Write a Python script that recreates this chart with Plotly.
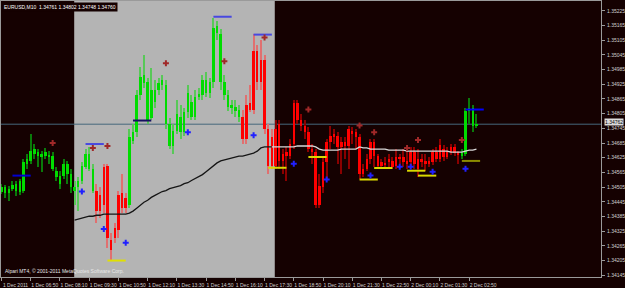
import numpy as np
import plotly.graph_objects as go

# ---------------- data (EURUSD, M10, 1 Dec 2011 05:30 -> 2 Dec 03:00) ----------------
opens = [1.34487, 1.34479, 1.34479, 1.34499, 1.34491, 1.34487, 1.34491, 1.34600, 1.34612, 1.34640,
         1.34632, 1.34628, 1.34632, 1.34628, 1.34580, 1.34548, 1.34519, 1.34552, 1.34560, 1.34507,
         1.34491, 1.34507, 1.34532, 1.34588, 1.34580, 1.34491, 1.34491, 1.34471, 1.34588, 1.34592,
         1.34290, 1.34338, 1.34471, 1.34479, 1.34459, 1.34431, 1.34693, 1.34729, 1.34882, 1.34930,
         1.34781, 1.34789, 1.34854, 1.34902, 1.34922, 1.34761, 1.34673, 1.34673, 1.34733, 1.34729,
         1.34729, 1.34810, 1.34793, 1.34793, 1.34874, 1.34882, 1.34890, 1.34890, 1.34935, 1.35136,
         1.34935, 1.34882, 1.34834, 1.34830, 1.34814, 1.34793, 1.34793, 1.34842, 1.34850, 1.35063,
         1.35063, 1.35023, 1.35023, 1.34741, 1.34709, 1.34741, 1.34761, 1.34640, 1.34648, 1.34681,
         1.34850, 1.34850, 1.34781, 1.34753, 1.34729, 1.34660, 1.34648, 1.34511, 1.34608, 1.34689,
         1.34713, 1.34721, 1.34713, 1.34689, 1.34689, 1.34741, 1.34733, 1.34729, 1.34709, 1.34580,
         1.34620, 1.34689, 1.34689, 1.34632, 1.34608, 1.34604, 1.34620, 1.34612, 1.34628, 1.34628,
         1.34628, 1.34612, 1.34648, 1.34648, 1.34620, 1.34620, 1.34612, 1.34612, 1.34648, 1.34648,
         1.34677, 1.34660, 1.34652, 1.34669, 1.34669, 1.34648, 1.34636, 1.34640, 1.34814, 1.34753,
         1.34757]
highs = [1.34519, 1.34515, 1.34511, 1.34528, 1.34532, 1.34540, 1.34620, 1.34640, 1.34721, 1.34681,
         1.34660, 1.34652, 1.34665, 1.34652, 1.34648, 1.34588, 1.34572, 1.34620, 1.34612, 1.34580,
         1.34532, 1.34548, 1.34608, 1.34660, 1.34669, 1.34600, 1.34519, 1.34507, 1.34600, 1.34600,
         1.34318, 1.34358, 1.34491, 1.34560, 1.34479, 1.34741, 1.34761, 1.34902, 1.34995, 1.35043,
         1.34951, 1.34991, 1.34943, 1.34951, 1.34963, 1.34943, 1.34789, 1.34761, 1.34862, 1.34842,
         1.34830, 1.34922, 1.34882, 1.34902, 1.34910, 1.34963, 1.34975, 1.34951, 1.35196, 1.35184,
         1.35152, 1.34963, 1.34902, 1.34862, 1.34862, 1.34842, 1.34822, 1.34882, 1.34922, 1.35132,
         1.35084, 1.35104, 1.35043, 1.34761, 1.34741, 1.34781, 1.34781, 1.34660, 1.34669, 1.34701,
         1.34862, 1.34862, 1.34802, 1.34781, 1.34749, 1.34681, 1.34660, 1.34560, 1.34628, 1.34701,
         1.34753, 1.34741, 1.34729, 1.34709, 1.34709, 1.34753, 1.34749, 1.34741, 1.34721, 1.34600,
         1.34640, 1.34701, 1.34701, 1.34640, 1.34620, 1.34628, 1.34640, 1.34628, 1.34660, 1.34640,
         1.34660, 1.34660, 1.34669, 1.34669, 1.34660, 1.34640, 1.34640, 1.34628, 1.34660, 1.34669,
         1.34701, 1.34677, 1.34669, 1.34681, 1.34681, 1.34652, 1.34660, 1.34830, 1.34870, 1.34842,
         1.34802]
lows = [1.34475, 1.34459, 1.34447, 1.34491, 1.34467, 1.34471, 1.34479, 1.34580, 1.34600, 1.34620,
        1.34588, 1.34568, 1.34620, 1.34600, 1.34572, 1.34532, 1.34499, 1.34540, 1.34519, 1.34479,
        1.34431, 1.34407, 1.34519, 1.34580, 1.34572, 1.34479, 1.34358, 1.34378, 1.34399, 1.34258,
        1.34209, 1.34278, 1.34298, 1.34399, 1.34399, 1.34419, 1.34681, 1.34709, 1.34862, 1.34910,
        1.34761, 1.34781, 1.34830, 1.34882, 1.34902, 1.34741, 1.34660, 1.34640, 1.34721, 1.34701,
        1.34713, 1.34789, 1.34781, 1.34781, 1.34862, 1.34862, 1.34874, 1.34870, 1.34910, 1.35104,
        1.34902, 1.34862, 1.34814, 1.34802, 1.34793, 1.34773, 1.34681, 1.34681, 1.34810, 1.34802,
        1.34902, 1.34902, 1.34721, 1.34560, 1.34580, 1.34580, 1.34580, 1.34560, 1.34532, 1.34620,
        1.34660, 1.34761, 1.34733, 1.34701, 1.34648, 1.34600, 1.34419, 1.34419, 1.34479, 1.34540,
        1.34660, 1.34681, 1.34600, 1.34560, 1.34620, 1.34580, 1.34681, 1.34660, 1.34540, 1.34548,
        1.34572, 1.34600, 1.34588, 1.34580, 1.34580, 1.34580, 1.34588, 1.34580, 1.34580, 1.34600,
        1.34588, 1.34580, 1.34588, 1.34580, 1.34548, 1.34588, 1.34572, 1.34588, 1.34596, 1.34608,
        1.34608, 1.34612, 1.34620, 1.34636, 1.34632, 1.34600, 1.34620, 1.34632, 1.34761, 1.34729,
        1.34748]
closes = [1.34507, 1.34507, 1.34499, 1.34515, 1.34519, 1.34528, 1.34608, 1.34620, 1.34652, 1.34660,
          1.34648, 1.34640, 1.34648, 1.34636, 1.34632, 1.34572, 1.34552, 1.34600, 1.34600, 1.34560,
          1.34507, 1.34532, 1.34592, 1.34640, 1.34640, 1.34580, 1.34407, 1.34407, 1.34431, 1.34298,
          1.34249, 1.34298, 1.34330, 1.34419, 1.34419, 1.34709, 1.34729, 1.34882, 1.34955, 1.34963,
          1.34935, 1.34902, 1.34902, 1.34930, 1.34943, 1.34922, 1.34761, 1.34733, 1.34802, 1.34793,
          1.34810, 1.34890, 1.34854, 1.34874, 1.34886, 1.34943, 1.34943, 1.34935, 1.35156, 1.35164,
          1.35132, 1.34935, 1.34882, 1.34842, 1.34834, 1.34822, 1.34701, 1.34701, 1.34822, 1.34822,
          1.34935, 1.34935, 1.34741, 1.34592, 1.34592, 1.34592, 1.34612, 1.34612, 1.34632, 1.34632,
          1.34681, 1.34781, 1.34753, 1.34729, 1.34660, 1.34648, 1.34431, 1.34431, 1.34507, 1.34608,
          1.34689, 1.34709, 1.34669, 1.34669, 1.34673, 1.34673, 1.34725, 1.34709, 1.34560, 1.34560,
          1.34580, 1.34620, 1.34632, 1.34592, 1.34592, 1.34596, 1.34608, 1.34588, 1.34592, 1.34620,
          1.34608, 1.34600, 1.34608, 1.34600, 1.34580, 1.34608, 1.34600, 1.34600, 1.34608, 1.34620,
          1.34620, 1.34628, 1.34628, 1.34648, 1.34644, 1.34640, 1.34644, 1.34814, 1.34830, 1.34830,
          1.34762]

# moving average, from bar 20 onward
ma_start = 20
ma_values = [1.34370, 1.34374, 1.34378, 1.34382, 1.34386, 1.34386, 1.34390, 1.34390, 1.34395, 1.34395,
             1.34395, 1.34395, 1.34395, 1.34395, 1.34395, 1.34399, 1.34407, 1.34419, 1.34431, 1.34443,
             1.34451, 1.34463, 1.34471, 1.34479, 1.34487, 1.34491, 1.34499, 1.34503, 1.34507, 1.34511,
             1.34519, 1.34523, 1.34532, 1.34540, 1.34548, 1.34556, 1.34568, 1.34580, 1.34592, 1.34604,
             1.34612, 1.34616, 1.34620, 1.34624, 1.34628, 1.34632, 1.34632, 1.34636, 1.34640, 1.34644,
             1.34652, 1.34665, 1.34669, 1.34669, 1.34669, 1.34669, 1.34669, 1.34669, 1.34669, 1.34669,
             1.34669, 1.34673, 1.34673, 1.34673, 1.34673, 1.34673, 1.34669, 1.34660, 1.34656, 1.34656,
             1.34656, 1.34656, 1.34656, 1.34660, 1.34660, 1.34660, 1.34660, 1.34660, 1.34669, 1.34665,
             1.34665, 1.34660, 1.34660, 1.34660, 1.34660, 1.34660, 1.34656, 1.34656, 1.34656, 1.34656,
             1.34656, 1.34652, 1.34652, 1.34652, 1.34652, 1.34652, 1.34652, 1.34652, 1.34652, 1.34652,
             1.34652, 1.34652, 1.34652, 1.34648, 1.34648, 1.34648, 1.34648, 1.34652, 1.34656, 1.34656,
             1.34660]

# fractal markers
up_fractal_bar = [14, 25, 29, 45, 61, 72, 84, 98, 102, 111, 114, 126]
up_fractal_price = [1.34685, 1.34665, 1.34673, 1.35011, 1.35019, 1.35116, 1.34822, 1.34757, 1.34729,
                    1.34665, 1.34697, 1.34697]
down_fractal_bar = [22, 28, 34, 51, 69, 80, 89, 101, 109, 112, 118, 127]
down_fractal_price = [1.34487, 1.34334, 1.34278, 1.34729, 1.34717, 1.34600, 1.34536, 1.34552, 1.34588,
                      1.34588, 1.34568, 1.34580]

# short level lines
high_level_start = [3, 23, 36, 58, 69, 127]
high_level_end = [8, 28, 41, 63, 74, 132]
high_level_price = [1.34552, 1.34681, 1.34777, 1.35201, 1.35128, 1.34822]
high_level_color = ["#0000d0", "#4848e0", "#141060", "#4848e0", "#4848e0", "#0000ff"]
low_level_start = [29, 73, 84, 98, 102, 111, 114, 126]
low_level_end = [34, 78, 89, 103, 107, 116, 119, 131]
low_level_price = [1.34205, 1.34584, 1.34628, 1.34536, 1.34583, 1.34572, 1.34552, 1.34612]
low_level_color = ["#e0e000", "#d8d800", "#d8d800", "#d8d800", "#d8d800", "#d8d800", "#d8d800", "#8c8c00"]

bid = 1.34762
session_bars = [19.9, 74.8]

tick_bars = [0, 8, 16, 24, 32, 40, 48, 56, 64, 72, 80, 88, 96, 104, 112, 120, 128]
tick_text = ["1 Dec 2011", "1 Dec 06:50", "1 Dec 08:10", "1 Dec 09:30", "1 Dec 10:50", "1 Dec 12:10",
             "1 Dec 13:30", "1 Dec 14:50", "1 Dec 16:10", "1 Dec 17:30", "1 Dec 18:50", "1 Dec 20:10",
             "1 Dec 21:30", "1 Dec 22:50", "2 Dec 00:10", "2 Dec 01:30", "2 Dec 02:50"]
price_ticks = [1.35225, 1.35165, 1.35105, 1.35045, 1.34985, 1.34925, 1.34865, 1.34805, 1.34745, 1.34685,
               1.34625, 1.34565, 1.34505, 1.34445, 1.34385, 1.34325, 1.34265, 1.34205, 1.34145]
price_text = ["%.5f" % v for v in price_ticks]

title_text = "EURUSD,M10  1.34761 1.34802 1.34748 1.34760"
footer_text = "Alpari MT4, \u00a9 2001-2011 MetaQuotes Software Corp."

# ---------------- figure ----------------
BG = "#150101"
FONT = "Liberation Sans"
o = np.array(opens); h = np.array(highs); l = np.array(lows); c = np.array(closes)
bars = np.arange(len(o))
bull = c >= o
in_s = (bars > session_bars[0]) & (bars < session_bars[1])

body_col = np.where(bull, "#00dc00", "#ff0000")
wick_col = np.select([bull & in_s, bull & ~in_s, ~bull & in_s],
                     ["#58c858", "#0a7a0a", "#e07070"], "#8a0000")

fig = go.Figure()
fig.add_trace(go.Bar(x=bars, base=l, y=h - l, width=0.28,
                     marker=dict(color=wick_col, line=dict(width=0)), hoverinfo="skip"))
fig.add_trace(go.Bar(x=bars, base=np.minimum(o, c), y=np.maximum(np.abs(c - o), 0.00003), width=0.68,
                     marker=dict(color=body_col, line=dict(width=0)), hoverinfo="skip"))

ma_x = np.arange(ma_start, ma_start + len(ma_values))
ma = np.array(ma_values)
split = int(session_bars[1]) - ma_start
fig.add_trace(go.Scatter(x=ma_x[:split + 1], y=ma[:split + 1], mode="lines",
                         line=dict(color="#151515", width=1.3)))
fig.add_trace(go.Scatter(x=ma_x[split:], y=ma[split:], mode="lines",
                         line=dict(color="#d8d8d8", width=1.3)))

for a, b, p, col in zip(high_level_start, high_level_end, high_level_price, high_level_color):
    fig.add_trace(go.Scatter(x=[a, b], y=[p, p], mode="lines", line=dict(color=col, width=2)))
for a, b, p, col in zip(low_level_start, low_level_end, low_level_price, low_level_color):
    fig.add_trace(go.Scatter(x=[a, b], y=[p, p], mode="lines", line=dict(color=col, width=2)))

fig.add_trace(go.Scatter(x=up_fractal_bar, y=up_fractal_price, mode="markers",
                         marker=dict(symbol="cross", size=5, color="#a02828", line=dict(width=0))))
fig.add_trace(go.Scatter(x=down_fractal_bar, y=down_fractal_price, mode="markers",
                         marker=dict(symbol="cross", size=5, color="#2020ff", line=dict(width=0))))

fig.add_shape(type="rect", xref="x", yref="paper", x0=session_bars[0], x1=session_bars[1], y0=0, y1=1,
              fillcolor="#b4b4b4", line=dict(width=0), layer="below")
fig.add_shape(type="line", xref="paper", yref="y", x0=0, x1=1, y0=bid, y1=bid,
              line=dict(color="#46677c", width=1), layer="below")

fig.add_annotation(xref="paper", yref="y", x=1, y=bid, xanchor="left", yanchor="middle", xshift=3, yshift=2,
                   text="%.5f" % bid, showarrow=False, bgcolor="#dcdcdc", borderpad=0,
                   font=dict(family=FONT, size=5, color="#000000"))
fig.add_annotation(xref="paper", yref="paper", x=0, y=1, xanchor="left", yanchor="top", xshift=1, yshift=-1,
                   text=title_text, showarrow=False, bgcolor=BG, borderpad=1,
                   font=dict(family=FONT, size=5, color="#ffffff"))
fig.add_annotation(xref="paper", yref="paper", x=0, y=0, xanchor="left", yanchor="bottom", xshift=2, yshift=1,
                   text=footer_text, showarrow=False,
                   font=dict(family=FONT, size=5, color="#e8e8e8"))

px_per_bar = 3.684
fig.update_layout(
    width=625, height=288, margin=dict(l=1, r=19, t=0, b=8),
    paper_bgcolor=BG, plot_bgcolor=BG, showlegend=False, barmode="overlay", bargap=0,
    xaxis=dict(range=[-0.5 / px_per_bar, 604.5 / px_per_bar], tickvals=tick_bars, ticktext=tick_text,
               showgrid=False, zeroline=False, showline=True, linecolor="#9a9a9a", linewidth=1, mirror=True,
               ticks="outside", ticklen=3, tickcolor="#9a9a9a", ticklabelshift=14, ticklabelstandoff=0,
               tickfont=dict(family=FONT, size=5, color="#d0d0d0"), fixedrange=True),
    yaxis=dict(range=[1.341378, 1.352653], side="right", tickvals=price_ticks, ticktext=price_text,
               showgrid=False, zeroline=False, showline=True, linecolor="#9a9a9a", linewidth=1, mirror=True,
               ticks="outside", ticklen=3, tickcolor="#9a9a9a", ticklabelstandoff=1,
               tickfont=dict(family=FONT, size=5, color="#d0d0d0"), fixedrange=True),
)

fig.write_html("out.html")
